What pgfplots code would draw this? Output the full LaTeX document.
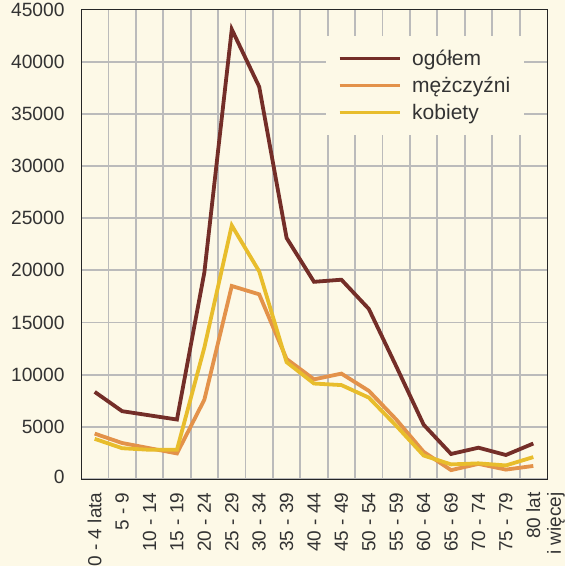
\documentclass[border=0pt]{standalone}
\usepackage{pgfplots}
\pgfplotsset{compat=1.18}
\usepackage{fontspec}
\setmainfont{Liberation Sans}
\definecolor{bgc}{HTML}{FDF9E7}
\definecolor{cOg}{HTML}{742E28}
\definecolor{cM}{HTML}{E3924A}
\definecolor{cK}{HTML}{E8BD2C}
\definecolor{gridc}{HTML}{BBBBBB}
\begin{document}
\begin{tikzpicture}[x=1bp,y=1bp]
\fill[bgc] (0,0) rectangle (565,566);
\useasboundingbox (0,0) rectangle (565,566);
\begin{axis}[
  at={(81bp,87bp)}, anchor=south west,
  scale only axis, width=466bp, height=469.5bp,
  xmin=-0.5, xmax=16.5, ymin=0, ymax=45000,
  axis background/.style={fill=bgc},
  xtick={0,...,16},
  xticklabels={0 - 4 lata,5 - 9,10 - 14,15 - 19,20 - 24,25 - 29,30 - 34,35 - 39,40 - 44,45 - 49,50 - 54,55 - 59,60 - 64,65 - 69,70 - 74,75 - 79,{80 lat\llap{\raisebox{-1.1em}[0pt][0pt]{i więcej}}}},
  minor xtick={0.5,1.5,...,15.5},
  xminorgrids=true, xmajorgrids=false, ymajorgrids=true,
  ytick={0,5000,10000,15000,20000,25000,30000,35000,40000,45000},
  yticklabels={\raisebox{5bp}{0},5000,10000,15000,20000,25000,30000,35000,40000,\raisebox{-6bp}{45000}},
  major tick length=0pt, minor tick length=0pt,
  grid style={gridc, line width=1.8bp},
  minor grid style={gridc, line width=1.8bp},
  axis line style={line width=0.9bp, black!85},
  x tick label style={rotate=90, anchor=east, xshift=-10bp, font=\fontsize{19bp}{23bp}\selectfont, text=black!80},
  y tick label style={xshift=-13bp, font=\fontsize{19.2bp}{23bp}\selectfont, text=black!80},
  legend style={at={(rel axis cs:0.525,0.944)}, anchor=north west, draw=none, fill=bgc,
    inner xsep=12bp, inner ysep=12bp, row sep=6bp,
    font=\fontsize{21bp}{25bp}\selectfont, text=black!80,
    /tikz/every odd column/.append style={column sep=9bp}},
  legend cell align=left,
  legend image code/.code={\draw[#1, line width=3.4bp] (0bp,0bp) -- (60bp,0bp);},
  every axis plot/.append style={line width=3.8bp, line join=miter},
]
\addplot[cOg] coordinates {(0,8350)(1,6500)(2,6100)(3,5700)(4,19800)(5,43100)(6,37600)(7,23100)(8,18900)(9,19100)(10,16300)(11,10800)(12,5200)(13,2400)(14,3000)(15,2300)(16,3400)};
\addlegendentry{ogółem}
\addplot[cM] coordinates {(0,4350)(1,3450)(2,2950)(3,2450)(4,7600)(5,18500)(6,17700)(7,11500)(8,9550)(9,10100)(10,8450)(11,5700)(12,2600)(13,850)(14,1450)(15,900)(16,1250)};
\addlegendentry{mężczyźni}
\addplot[cK] coordinates {(0,3850)(1,2950)(2,2800)(3,2800)(4,12600)(5,24300)(6,19900)(7,11200)(8,9150)(9,9000)(10,7800)(11,5100)(12,2250)(13,1400)(14,1500)(15,1300)(16,2100)};
\addlegendentry{kobiety}
\end{axis}
\end{tikzpicture}
\end{document}
